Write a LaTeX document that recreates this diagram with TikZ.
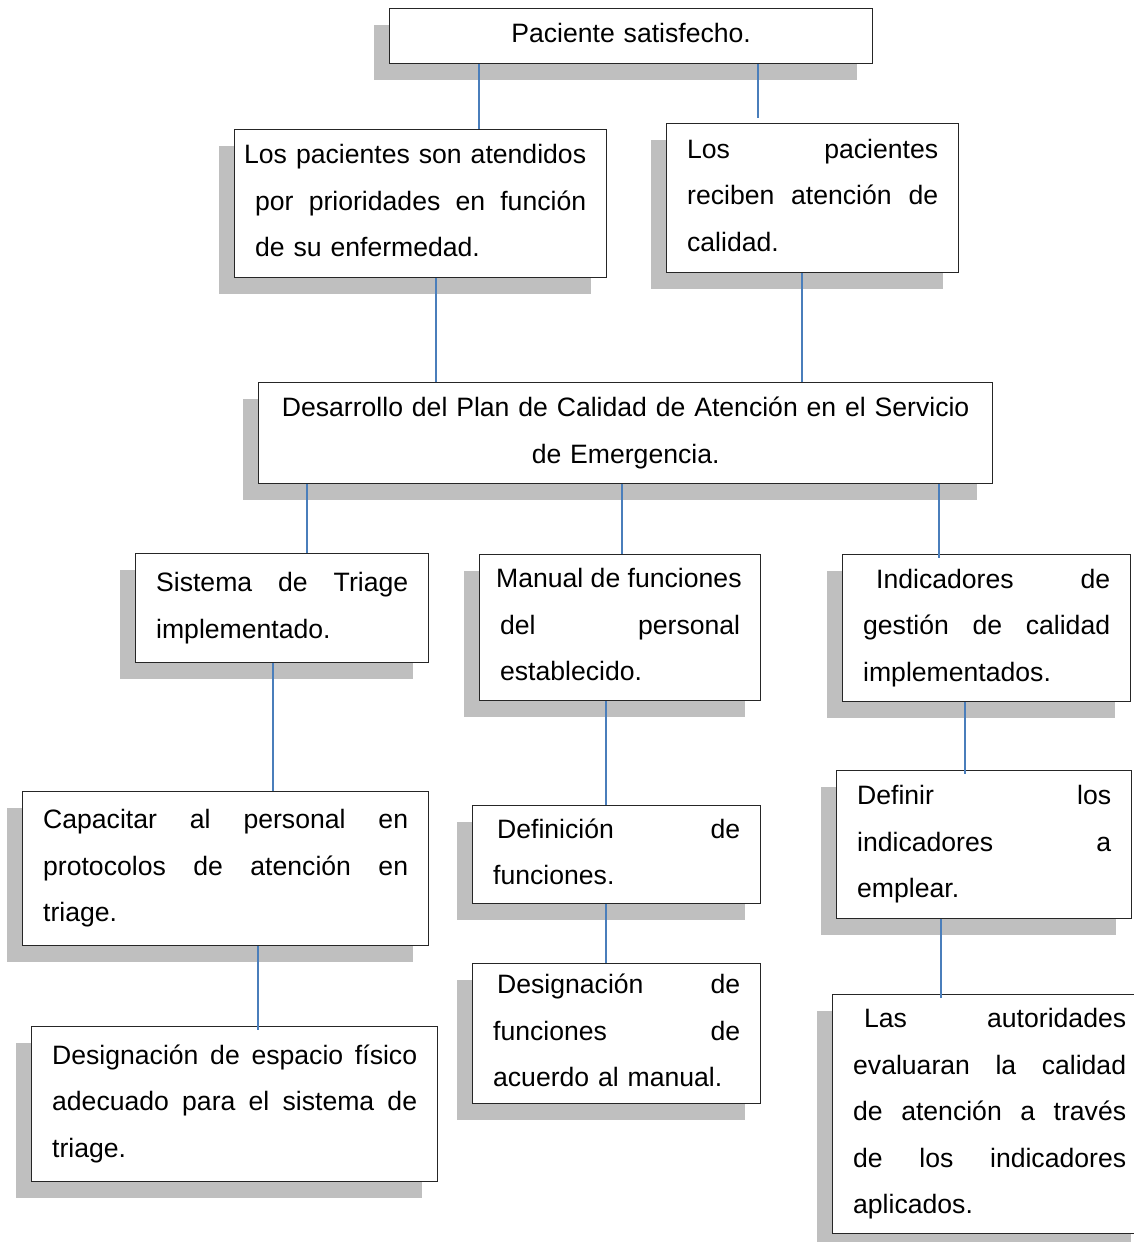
\documentclass[tikz,border=0pt]{standalone}
\usepackage{fontspec}
\setmainfont{Liberation Sans}
\usetikzlibrary{shadows}

\definecolor{linkblue}{HTML}{4A7EBB}
\definecolor{shadowgray}{HTML}{BFBFBF}
\newcommand{\lstrut}{\rule[-16.5pt]{0pt}{46.5pt}}
\newcommand{\jline}[1]{\hbox to \hsize{\spaceskip=\fontdimen2\font plus 1fil\lstrut#1}\par}
\newcommand{\tline}[1]{\lstrut#1}

\begin{document}
\begin{tikzpicture}[x=1pt, y=-1pt,
    box/.style={draw=black!85, line width=1.3pt, fill=white, anchor=north west,
      inner xsep=20.5pt, inner ysep=0pt, align=left,
      font=\fontsize{26.6pt}{46.5pt}\selectfont,
      drop shadow={shadow xshift=-16pt, shadow yshift=-16pt, opacity=1, fill=shadowgray}},
    link/.style={draw=linkblue, line width=1.5pt}]
    \path[use as bounding box, clip] (0,0) rectangle (1134,1242);

    % top
    \node[box, align=center, text width=442pt, minimum height=55pt] (sat) at (389,8)
      {\tline{Paciente satisfecho.}};
    \node[box, text width=331pt, minimum height=148pt] (prio) at (234,129)
      {\jline{\hspace*{-11pt}Los pacientes son atendidos}\jline{por prioridades en función}\tline{de su enfermedad.}};
    \node[box, text width=251pt, minimum height=149pt] (cal) at (666,123)
      {\jline{Los pacientes}\jline{reciben atención de}\tline{calidad.}};

    % plan
    \node[box, align=center, text width=693pt, minimum height=101pt] (plan) at (258,382)
      {\tline{Desarrollo del Plan de Calidad de Atención en el Servicio}\\\tline{de Emergencia.}};

    % three branches
    \node[box, text width=252pt, minimum height=109pt] (triage) at (135,553)
      {\jline{Sistema de Triage}\tline{implementado.}};
    \node[box, text width=240pt, minimum height=146pt] (manual) at (479,554)
      {\jline{\hspace*{-4pt}Manual de funciones}\jline{del personal}\tline{establecido.}};
    \node[box, text width=247pt, minimum height=147pt] (indic) at (842,554)
      {\jline{\hspace*{13pt}Indicadores de}\jline{gestión de calidad}\tline{implementados.}};

    \node[box, text width=365pt, minimum height=154pt] (capac) at (22,791)
      {\jline{Capacitar al personal en}\jline{protocolos de atención en}\tline{triage.}};
    \node[box, text width=365pt, minimum height=155pt] (espacio) at (31,1026)
      {\jline{Designación de espacio físico}\jline{adecuado para el sistema de}\tline{triage.}};

    \node[box, text width=247pt, minimum height=98pt] (funcdef) at (472,805)
      {\jline{\hspace*{4pt}Definición de}\tline{funciones.}};
    \node[box, text width=247pt, minimum height=140pt] (funcdes) at (472,963)
      {\jline{\hspace*{4pt}Designación de}\jline{funciones de}\tline{acuerdo al manual.}};

    \node[box, text width=254pt, minimum height=148pt] (inddef) at (836,770)
      {\jline{Definir los}\jline{indicadores a}\tline{emplear.}};
    \node[box, text width=273pt, minimum height=239pt] (autor) at (832,994)
      {\jline{\hspace*{11pt}Las autoridades}\jline{evaluaran la calidad}\jline{de atención a través}\jline{de los indicadores}\tline{aplicados.}};

    % connectors
    \draw[link] (479,0 |- sat.south) -- (479,0 |- prio.north);
    \draw[link, shorten >=5pt] (758,0 |- sat.south) -- (758,0 |- cal.north);
    \draw[link] (436,0 |- prio.south) -- (436,0 |- plan.north);
    \draw[link] (802,0 |- cal.south) -- (802,0 |- plan.north);
    \draw[link] (307,0 |- plan.south) -- (307,0 |- triage.north);
    \draw[link] (622,0 |- plan.south) -- (622,0 |- manual.north);
    \draw[link, shorten >=-4pt] (939,0 |- plan.south) -- (939,0 |- indic.north);
    \draw[link] (273,0 |- triage.south) -- (273,0 |- capac.north);
    \draw[link, shorten >=-4pt] (258,0 |- capac.south) -- (258,0 |- espacio.north);
    \draw[link] (606,0 |- manual.south) -- (606,0 |- funcdef.north);
    \draw[link] (606,0 |- funcdef.south) -- (606,0 |- funcdes.north);
    \draw[link, shorten >=-4pt] (965,0 |- indic.south) -- (965,0 |- inddef.north);
    \draw[link, shorten >=-4pt] (941,0 |- inddef.south) -- (941,0 |- autor.north);
\end{tikzpicture}
\end{document}
